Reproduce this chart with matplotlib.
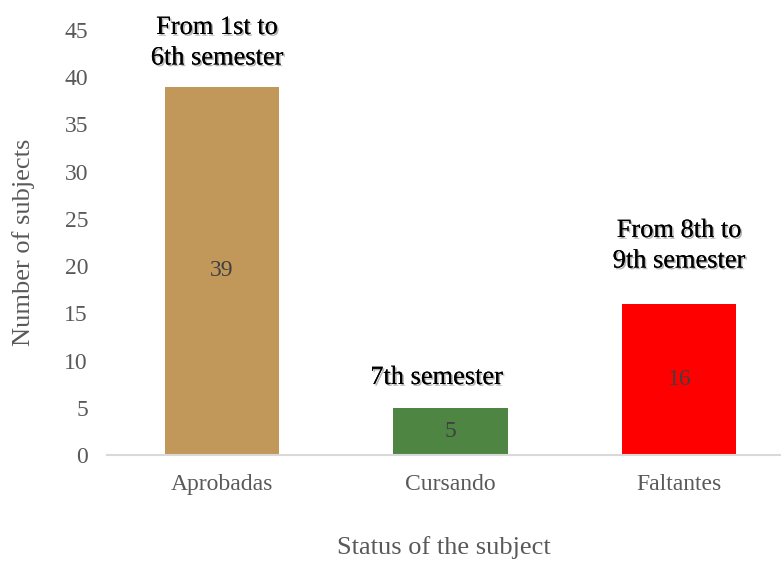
import numpy as np
import matplotlib.pyplot as plt
import matplotlib.patheffects as pe

plt.rcParams['font.family'] = ['Liberation Serif', 'DejaVu Serif']

# data
categories = ['Aprobadas', 'Cursando', 'Faltantes']
values = [39, 5, 16]
colors = ['#C19859', '#4E8542', '#FF0000']
notes = ['From 1st to\n6th semester', '7th semester', 'From 8th to\n9th semester']

fig = plt.figure(figsize=(7.81, 5.62), dpi=100)
ax = fig.add_axes([0.1376, 0.1904, 0.861, 0.7562])

x = np.arange(len(categories))
bars = ax.bar(x, values, width=0.50, color=colors)

# value labels inside bars
ax.bar_label(bars, labels=[str(v) for v in values], label_type='center',
             fontsize=17, color='#404040')

# notes above bars, with soft shadow
shadow = [pe.withSimplePatchShadow(offset=(1.2, -1.2), shadow_rgbFace='#808080', alpha=0.6),
          pe.Normal()]
note_x = [-0.02, 0.94, 2.0]
note_y = [43.6, 8.15, 22.1]
for nx, ny, t in zip(note_x, note_y, notes):
    ax.text(nx, ny, t, ha='center', va='center', fontsize=19, color='black',
            linespacing=1.5, path_effects=shadow)

ax.set_xlim(-0.5, 2.44)
ax.set_ylim(0, 45)
ax.set_yticks(np.arange(0, 46, 5))
ax.set_xticks(x)
ax.set_xticklabels(categories)

for s in ['top', 'right', 'left']:
    ax.spines[s].set_visible(False)
ax.spines['bottom'].set_color('#D9D9D9')
ax.spines['bottom'].set_linewidth(1.5)
ax.tick_params(axis='both', length=0, labelsize=17, labelcolor='#595959')
ax.tick_params(axis='x', pad=14)
ax.tick_params(axis='y', pad=14)

ax.set_xlabel('Status of the subject', fontsize=19, color='#595959', labelpad=29)
ax.set_ylabel('Number of subjects', fontsize=19, color='#595959', labelpad=21)

fig.savefig('out.png', dpi=100)
